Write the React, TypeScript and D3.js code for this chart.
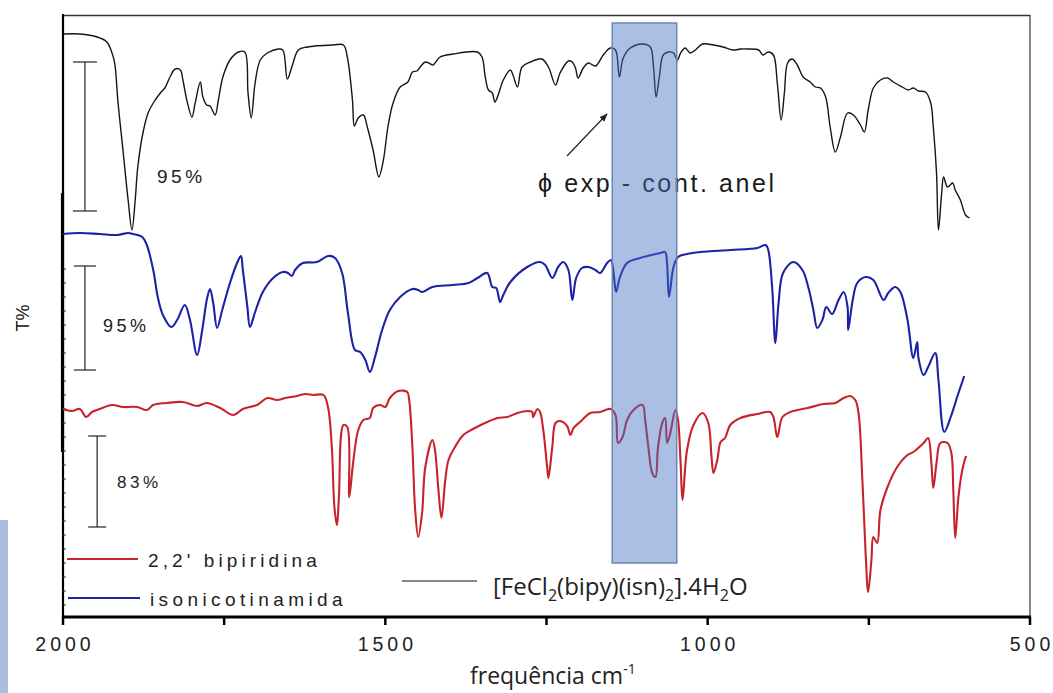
import React from "react";
import * as d3 from "d3";

// ---------- DATA ----------
// x: wavenumber (cm-1), y: offset transmittance (arbitrary units, stacked)
const complexSpectrum: [number, number][] = [
  [2000,583],[1974,583],[1947,580],[1932,575],[1922,560],[1919,550],[1915,517],[1907,467],[1899,417],[1893,387],[1888,417],[1884,450],[1876,484],[1868,504],[1860,514],[1849,524],[1842,529],[1834,540],[1826,548],[1818,547],[1814,537],[1808,517],[1800,500],[1795,514],[1787,535],[1783,520],[1777,512],[1772,511],[1764,502],[1759,517],[1752,540],[1741,557],[1728,565],[1718,565],[1713,524],[1708,499],[1702,534],[1694,557],[1683,564],[1666,568],[1659,567],[1652,538],[1645,550],[1635,567],[1621,570],[1581,572],[1565,572],[1559,560],[1551,517],[1548,491],[1542,499],[1534,502],[1528,490],[1519,467],[1510,440],[1503,457],[1496,490],[1488,514],[1477,530],[1465,535],[1458,545],[1451,546],[1446,550],[1438,555],[1430,553],[1426,552],[1415,560],[1395,563],[1357,565],[1350,560],[1345,540],[1340,527],[1334,524],[1330,515],[1325,522],[1317,537],[1306,547],[1302,542],[1295,530],[1288,550],[1275,555],[1257,558],[1247,550],[1236,532],[1229,544],[1216,556],[1210,555],[1205,549],[1201,539],[1193,549],[1185,554],[1174,551],[1162,562],[1151,569],[1143,567],[1137,540],[1131,559],[1120,569],[1100,573],[1089,570],[1084,550],[1080,520],[1075,540],[1069,562],[1061,565],[1053,564],[1047,557],[1042,564],[1035,569],[1027,564],[1019,567],[1008,573],[991,572],[976,570],[960,567],[949,568],[938,568],[921,567],[914,562],[906,565],[898,562],[892,534],[886,497],[881,524],[876,554],[869,558],[861,552],[852,540],[841,535],[833,530],[825,529],[817,520],[810,490],[802,465],[794,480],[783,504],[774,502],[763,492],[757,485],[751,507],[743,529],[732,537],[721,539],[712,535],[698,530],[689,527],[681,529],[673,526],[662,525],[654,514],[650,490],[645,444],[642,387],[637,424],[634,440],[628,430],[620,434],[616,427],[608,417],[600,402],[594,399]
];

const isonicotinamideSpectrum: [number, number][] = [
  [2000,383],[1974,384],[1943,383],[1916,382],[1899,384],[1891,383],[1877,380],[1870,372],[1860,347],[1853,320],[1845,302],[1832,290],[1823,297],[1811,312],[1803,297],[1792,262],[1784,287],[1777,317],[1772,328],[1767,314],[1761,289],[1753,307],[1741,334],[1730,354],[1724,361],[1721,347],[1714,310],[1710,290],[1702,305],[1690,325],[1674,339],[1659,345],[1651,344],[1645,341],[1640,347],[1628,354],[1606,355],[1589,361],[1578,359],[1567,344],[1558,304],[1547,267],[1539,265],[1531,257],[1524,245],[1516,260],[1505,287],[1493,307],[1477,320],[1458,328],[1449,327],[1443,325],[1427,330],[1395,332],[1371,334],[1357,339],[1342,344],[1334,330],[1328,329],[1322,315],[1317,322],[1306,335],[1280,350],[1260,355],[1252,352],[1241,339],[1232,350],[1224,355],[1216,347],[1210,317],[1204,339],[1195,349],[1185,350],[1174,347],[1167,344],[1156,354],[1150,357],[1146,344],[1142,325],[1136,340],[1125,354],[1105,359],[1073,364],[1066,365],[1063,354],[1060,320],[1053,350],[1046,360],[1032,363],[1011,365],[965,367],[923,369],[910,372],[906,367],[900,330],[895,274],[890,314],[883,344],[867,355],[853,347],[844,330],[836,307],[830,289],[822,297],[816,310],[807,303],[797,317],[789,325],[783,310],[782,287],[775,317],[768,334],[755,340],[743,337],[727,317],[720,324],[709,330],[701,325],[690,297],[681,259],[675,275],[673,259],[665,242],[658,250],[647,264],[642,237],[633,185],[623,200],[612,222],[602,241]
];

const bipyridineSpectrum: [number, number][] = [
  [2000,208],[1986,206],[1974,208],[1964,200],[1955,205],[1943,208],[1924,212],[1907,210],[1885,210],[1870,207],[1860,212],[1839,214],[1814,215],[1792,211],[1777,214],[1756,209],[1736,202],[1721,208],[1699,212],[1683,219],[1668,217],[1655,219],[1637,221],[1624,223],[1612,222],[1596,222],[1589,210],[1583,170],[1579,110],[1575,92],[1572,120],[1565,192],[1559,190],[1556,120],[1550,154],[1542,187],[1534,197],[1524,199],[1519,209],[1508,212],[1500,210],[1493,219],[1480,226],[1466,225],[1463,217],[1458,170],[1454,110],[1449,80],[1443,104],[1438,150],[1427,177],[1423,167],[1418,130],[1413,99],[1407,137],[1402,157],[1392,170],[1379,182],[1364,188],[1342,195],[1326,199],[1311,200],[1295,204],[1280,206],[1272,205],[1271,200],[1264,208],[1260,205],[1255,187],[1249,150],[1247,139],[1241,170],[1236,194],[1229,196],[1218,191],[1213,182],[1208,189],[1198,195],[1182,204],[1167,205],[1151,208],[1143,202],[1139,174],[1132,180],[1125,197],[1115,207],[1101,212],[1097,197],[1092,170],[1086,144],[1081,140],[1077,170],[1070,195],[1066,199],[1063,174],[1058,184],[1050,207],[1046,197],[1042,154],[1039,117],[1032,167],[1022,192],[1008,204],[999,194],[994,160],[991,144],[985,157],[980,175],[973,179],[965,192],[949,199],[923,203],[903,205],[898,200],[892,180],[884,200],[872,205],[845,209],[820,213],[802,214],[789,219],[779,221],[771,217],[766,204],[760,137],[755,64],[751,25],[746,57],[743,80],[737,74],[732,107],[721,130],[706,150],[690,162],[681,165],[665,174],[658,179],[653,154],[650,129],[645,154],[639,174],[628,174],[622,164],[619,127],[616,79],[611,120],[605,147],[599,161]
];

const xMajorTicks = [2000, 1500, 1000, 500];
const xMinorTicks = [1750, 1250, 750];
const leftAxisMinorTicks = d3.range(12, 360, 14);
const highlightRange = [1148, 1048];
const highlightSpan = [54, 594];
const scaleBarLabels = ["95%", "95%", "83%"];
// [wavenumber, bottom value, top value] per bar
const scaleBarWn = [1966, 1966, 1947];
const scaleBarLow = [406, 247, 90];
const scaleBarHigh = [555, 351, 181];
const legendLabels = ["2,2' bipiridina", "isonicotinamida"];

// ---------- LAYOUT ----------
const W = 1053, H = 693;
const L = 63, R = 1030, T = 15, B = 617;

const x = d3.scaleLinear().domain([2000, 500]).range([L, R]);
const y = d3.scaleLinear().domain([0, 600]).range([B, T + 2]);

const line = d3
  .line<[number, number]>()
  .x((d) => x(d[0]))
  .y((d) => y(d[1]))
  .curve(d3.curveCatmullRom.alpha(0.5));

const ARIAL = "'Liberation Sans', Arial, sans-serif";
const CALIBRI = "'Open Sans', 'Noto Sans', sans-serif";
const BLACK = "#151515";
const BLUE = "#1c22a6";
const RED = "#c8232b";

export default function App() {
  const labelPos = [
    { x: 157, y: 183, size: 19 },
    { x: 103, y: 332, size: 18 },
    { x: 117, y: 488, size: 17 },
  ];
  const capHalf = [12, 11, 9];

  return (
    <div style={{ position: "absolute", left: 0, top: 0 }}>
      <svg width={W} height={H} viewBox={`0 0 ${W} ${H}`} style={{ display: "block", background: "#fff" }}>
        <rect x={0} y={0} width={W} height={H} fill="#fff" />
        {/* slide artifact strip */}
        <rect x={0} y={520} width={8} height={H - 520} fill="#a9bee0" />

        {/* frame */}
        <line x1={L} x2={R} y1={T + 0.5} y2={T + 0.5} stroke="#333" strokeWidth={1.5} />
        <line x1={R} x2={R} y1={T} y2={B} stroke="#333" strokeWidth={1.2} />
        <line x1={L} x2={L} y1={T - 1} y2={B} stroke="#000" strokeWidth={2.2} />
        <line x1={L - 0.5} x2={L - 0.5} y1={193} y2={452} stroke="#000" strokeWidth={3.2} />
        {leftAxisMinorTicks.map((v) => (
          <line key={v} x1={L} x2={L + 3} y1={y(v)} y2={y(v)} stroke="#333" strokeWidth={1} />
        ))}

        {/* spectra */}
        <path d={line(complexSpectrum) || ""} fill="none" stroke={BLACK} strokeWidth={1.4} strokeLinejoin="round" />
        <path d={line(isonicotinamideSpectrum) || ""} fill="none" stroke={BLUE} strokeWidth={2.1} strokeLinejoin="round" />
        <path d={line(bipyridineSpectrum) || ""} fill="none" stroke={RED} strokeWidth={2.1} strokeLinejoin="round" />

        {/* scale bars */}
        {scaleBarLabels.map((lab, i) => {
          const cx = x(scaleBarWn[i]);
          const y1 = y(scaleBarHigh[i]);
          const y2 = y(scaleBarLow[i]);
          const h = capHalf[i];
          return (
            <g key={i} stroke="#333" strokeWidth={1.3}>
              <line x1={cx} x2={cx} y1={y1} y2={y2} />
              <line x1={cx - h} x2={cx + h} y1={y1} y2={y1} />
              <line x1={cx - h} x2={cx + h} y1={y2} y2={y2} />
              <text
                x={labelPos[i].x}
                y={labelPos[i].y}
                stroke="none"
                fill="#222"
                fontFamily={ARIAL}
                fontSize={labelPos[i].size}
                letterSpacing={3.5}
              >
                {lab}
              </text>
            </g>
          );
        })}

        {/* annotation */}
        <defs>
          <marker id="ah" viewBox="0 0 10 10" refX="9" refY="5" markerWidth="7" markerHeight="7" orient="auto">
            <path d="M0,1 L10,5 L0,9 z" fill="#222" />
          </marker>
        </defs>
        <line x1={567} y1={156} x2={607} y2={114} stroke="#222" strokeWidth={1.2} markerEnd="url(#ah)" />
        <text x={538} y={192} fill="#1a1a1a" fontFamily={ARIAL} fontSize={25} letterSpacing={2.6}>
          ϕ exp - cont. anel
        </text>

        {/* legend */}
        <line x1={67} x2={138} y1={559} y2={559} stroke={RED} strokeWidth={2} />
        <text x={148} y={567} fill="#222" fontFamily={ARIAL} fontSize={19} letterSpacing={4.1}>
          {legendLabels[0]}
        </text>
        <line x1={68} x2={140} y1={598} y2={598} stroke={BLUE} strokeWidth={2} />
        <text x={150} y={606} fill="#222" fontFamily={ARIAL} fontSize={19} letterSpacing={4.4}>
          {legendLabels[1]}
        </text>
        <line x1={402} x2={477} y1={581} y2={581} stroke="#111" strokeWidth={1.2} />
        <text x={493} y={595} fill="#222" fontFamily={CALIBRI} fontSize={24}>
          [FeCl<tspan fontSize={16} dy={6}>2</tspan>
          <tspan dy={-6}>(bipy)(isn)</tspan>
          <tspan fontSize={16} dy={6}>2</tspan>
          <tspan dy={-6}>].4H</tspan>
          <tspan fontSize={16} dy={6}>2</tspan>
          <tspan dy={-6}>O</tspan>
        </text>

        {/* highlight band (drawn on top, translucent) */}
        <rect
          x={x(highlightRange[0])}
          y={y(highlightSpan[1])}
          width={x(highlightRange[1]) - x(highlightRange[0])}
          height={y(highlightSpan[0]) - y(highlightSpan[1])}
          fill="rgb(68,114,196)"
          fillOpacity={0.45}
          stroke="#6d86ab"
          strokeWidth={1.5}
        />

        {/* x axis */}
        <line x1={L - 1} x2={R + 1} y1={B} y2={B} stroke="#000" strokeWidth={3} />
        {xMajorTicks.concat(xMinorTicks).map((t) => (
          <line key={t} x1={x(t)} x2={x(t)} y1={B} y2={B + 8} stroke="#000" strokeWidth={2.5} />
        ))}
        {xMajorTicks.map((t) => (
          <text
            key={t}
            x={x(t) + 2}
            y={651}
            textAnchor="middle"
            fill="#222"
            fontFamily={ARIAL}
            fontSize={19.5}
            letterSpacing={4}
          >
            {t}
          </text>
        ))}
        <text x={470} y={684} fill="#222" fontFamily={CALIBRI} fontSize={23}>
          frequência cm<tspan fontSize={14} dy={-10}>-1</tspan>
        </text>

        {/* y axis label */}
        <text
          transform="translate(29,318) rotate(-90)"
          textAnchor="middle"
          fill="#111"
          fontFamily={ARIAL}
          fontSize={18}
        >
          T%
        </text>
      </svg>
    </div>
  );
}
